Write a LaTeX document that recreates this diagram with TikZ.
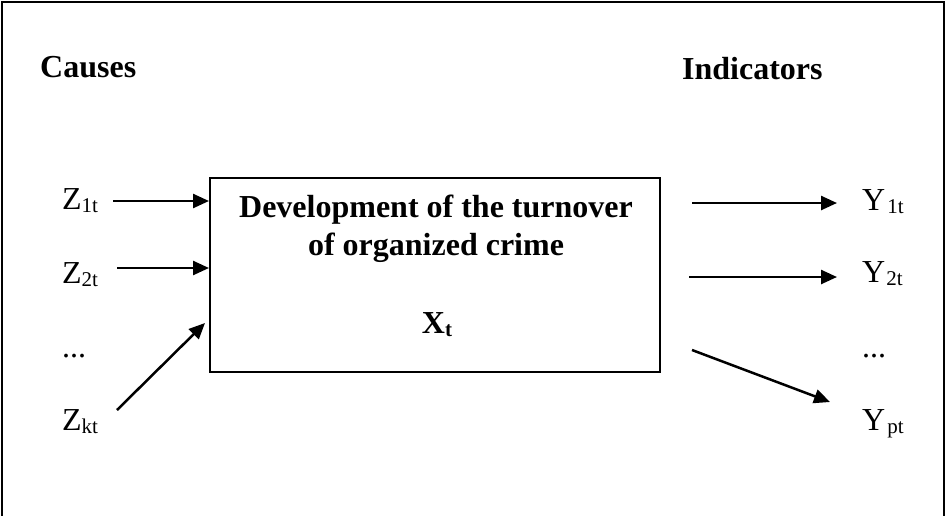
\documentclass[tikz,border=0pt]{standalone}
\usepackage{fontspec}
\setmainfont{Liberation Serif}
\usetikzlibrary{arrows.meta}
\newcommand{\sbx}[1]{\raisebox{-3.5pt}{\fontsize{21}{21}\selectfont #1}}
\begin{document}
\begin{tikzpicture}[x=1pt,y=-1pt,
  lbl/.style={anchor=base west,inner sep=0pt,font=\fontsize{32}{32}\selectfont},
  head/.style={anchor=base west,inner sep=0pt,font=\fontsize{32}{32}\selectfont\bfseries},
  btxt/.style={anchor=base,inner sep=0pt,font=\fontsize{32}{32}\selectfont\bfseries},
  arr/.style={line width=2.5pt,-{Triangle[length=16pt,width=14pt]}},
  boxst/.style={draw,line width=2pt,minimum width=450pt,minimum height=194pt,inner sep=0pt}]
\useasboundingbox (0,0) rectangle (946,515);
\draw[line width=2pt] (2,2) rectangle (944,530);
\node[head] (causes) at (40,77) {Causes};
\node[head] (indic) at (682,79) {Indicators};
\node[boxst] (box) at (435,275) {};
\node[btxt] (t1) at (436,217) {Development of the turnover};
\node[btxt] (t2) at (436,255) {of organized crime};
\node[btxt] (xt) at (437,333) {X\sbx{t}};
\node[lbl] (z1) at (62,209) {Z\sbx{1t}};
\node[lbl] (z2) at (62,283) {Z\sbx{2t}};
\node[lbl] (zd) at (62,357) {...};
\node[lbl] (zk) at (62,430) {Z\sbx{kt}};
\node[lbl] (y1) at (862,210) {Y\kern2pt\sbx{1t}};
\node[lbl] (y2) at (862,282) {Y\kern1pt\sbx{2t}};
\node[lbl] (yd) at (862,357) {...};
\node[lbl] (yp) at (862,430) {Y\kern2pt\sbx{pt}};
\coordinate (a1) at (113,201);
\coordinate (a2) at (117,268);
\coordinate (a3) at (117,410);
\coordinate (a3e) at (205,323);
\coordinate (b1) at (692,203);
\coordinate (b1e) at (837,203);
\coordinate (b2) at (689,277);
\coordinate (b2e) at (837,277);
\coordinate (b3) at (692,350);
\coordinate (b3e) at (830,402);
\draw[arr] (a1) -- (a1 -| box.west);
\draw[arr] (a2) -- (a2 -| box.west);
\draw[arr] (a3) -- (a3e);
\draw[arr] (b1) -- (b1e);
\draw[arr] (b2) -- (b2e);
\draw[arr] (b3) -- (b3e);
\end{tikzpicture}
\end{document}
